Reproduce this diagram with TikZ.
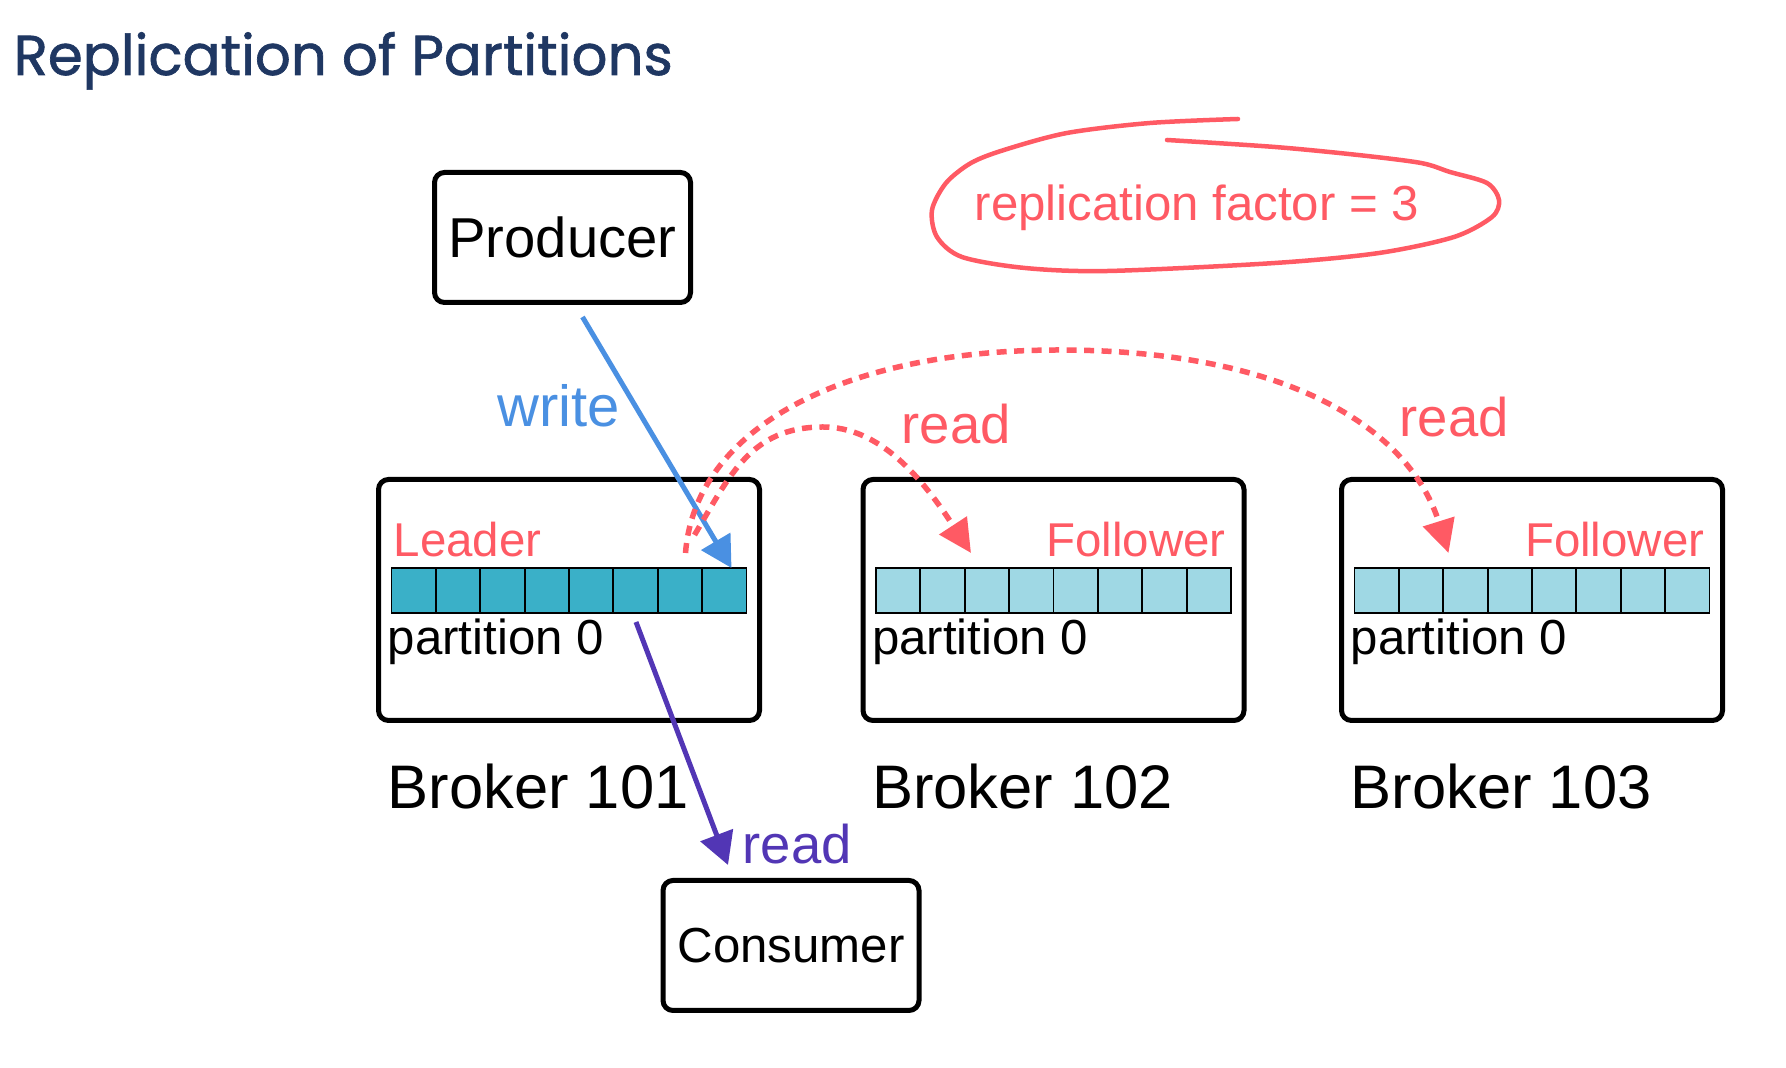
\documentclass[tikz,border=0pt]{standalone}
\usepackage{fontspec}
\setmainfont{Liberation Sans}
\newfontfamily\titlefont{Poppins}[FakeBold=1.2]
\usetikzlibrary{arrows.meta,positioning,calc}

\definecolor{kred}{HTML}{FF5A64}
\definecolor{kblue}{HTML}{4A90E2}
\definecolor{kpurple}{HTML}{5236B5}
\definecolor{leadfill}{HTML}{3AB0C8}
\definecolor{follfill}{HTML}{9FD8E4}
\definecolor{navy}{HTML}{1F3762}

\tikzset{
	box/.style={draw, line width=0.05cm, rounded corners=0.1cm, minimum width=2.56cm, minimum height=1.30cm},
	brokerbox/.style={draw, line width=0.05cm, rounded corners=0.1cm, minimum width=3.81cm, minimum height=2.41cm},
	logbar/.style={draw, line width=0.018cm, minimum width=3.55cm, minimum height=0.45cm, inner sep=0, outer sep=0},
	lbl/.style={inner sep=0, anchor=base west},
	readarrow/.style={kred, line width=0.055cm, dash pattern=on 0.1cm off 0.075cm, -{Triangle[length=0.33cm,width=0.32cm]}},
}

\begin{document}
\begin{tikzpicture}
	\useasboundingbox (0,0) rectangle (17.86,10.68);
	\node[lbl, text=navy, font=\titlefont\fontsize{16}{19}\selectfont] (title) at (0.13,9.93) {Replication of Partitions};

	% producer and consumer
	\node[box, font=\fontsize{16}{19}\selectfont] (producer) at (5.625,8.305) {Producer};
	\node[box, font=\fontsize{14}{17}\selectfont] (consumer) at (7.91,1.225) {Consumer};

	% brokers with their partition log
	\foreach \n/\x/\fc in {101/5.69/leadfill, 102/10.535/follfill, 103/15.32/follfill} {
		\node[brokerbox] (b\n) at (\x,4.68) {};
		\node[logbar, fill=\fc] (bar\n) at ($(b\n)+(0,0.095)$) {};
		\foreach \i in {1,...,7}
			\draw[line width=0.018cm] ($(bar\n.south west)+(\i*0.44375,0)$) -- ++(0,0.45);
		\node[lbl, font=\fontsize{14}{17}\selectfont] (part\n) at ($(b\n.north west)+(0.11,-1.78)$) {partition 0};
		\node[lbl, font=\fontsize{17.5}{21}\selectfont] (name\n) at ($(b\n.south west)+(0.11,-0.86)$) {Broker \n};
	}
	\node[lbl, text=kred, font=\fontsize{13.5}{16}\selectfont] (lead) at ($(b101.north west)+(0.17,-0.80)$) {Leader};
	\node[lbl, anchor=base east, text=kred, font=\fontsize{13.5}{16}\selectfont] (foll102) at ($(b102.north east)+(-0.20,-0.80)$) {Follower};
	\node[lbl, anchor=base east, text=kred, font=\fontsize{13.5}{16}\selectfont] (foll103) at ($(b103.north east)+(-0.20,-0.80)$) {Follower};

	% write and read arrows
	\draw[kblue, line width=0.05cm, -{Triangle[length=0.31cm,width=0.33cm]}] ($(producer.south)+(0.20,-0.12)$) -- ($(bar101.north east)+(-0.15,0)$);
	\node[lbl, text=kblue, font=\fontsize{16.5}{19}\selectfont] (write) at (4.97,6.41) {write};
	\draw[kpurple, line width=0.05cm, -{Triangle[length=0.32cm,width=0.34cm]}] ($(bar101.south)+(0.67,-0.09)$) -- ($(consumer.north)+(-0.63,0.13)$);
	\node[lbl, text=kpurple, font=\fontsize{15.5}{18}\selectfont] (read0) at (7.42,2.04) {read};

	% followers fetch from the leader
	\coordinate (src2) at ($(bar101.north east)+(-0.52,0.33)$);
	\coordinate (src3) at ($(bar101.north east)+(-0.61,0.15)$);
	\coordinate (dst2) at ($(bar102.north west)+(0.95,0.15)$);
	\coordinate (dst3) at ($(bar103.north west)+(0.94,0.15)$);
	\draw[readarrow] (src2) .. controls (7.30,5.93) and (7.51,6.41) .. (8.23,6.41) .. controls (8.80,6.41) and (9.22,5.90) .. (dst2);
	\draw[readarrow] (src3) .. controls (6.95,6.38) and (8.40,7.18) .. (10.59,7.18) .. controls (12.90,7.18) and (14.10,6.38) .. (dst3);
	\node[lbl, text=kred, font=\fontsize{15.5}{18}\selectfont] (read2) at (9.01,6.24) {read};
	\node[lbl, text=kred, font=\fontsize{15.5}{18}\selectfont] (read3) at (13.99,6.31) {read};

	% hand drawn loop round the note
	\node[lbl, text=kred, font=\fontsize{14}{17}\selectfont] (factor) at (9.74,8.47) {replication factor = 3};
	\draw[kred, line width=0.045cm, line cap=round] plot[smooth] coordinates {(12.38,9.49) (11.50,9.45) (10.67,9.35) (10.04,9.18) (9.71,9.05) (9.46,8.85) (9.32,8.58) (9.37,8.31) (9.62,8.11) (10.25,8.00) (11.08,7.97) (12.75,8.05) (13.79,8.15) (14.54,8.31) (14.92,8.51) (14.99,8.68) (14.87,8.85) (14.50,8.96) (14.21,9.05) (13.58,9.13) (12.75,9.21) (11.67,9.28)};
\end{tikzpicture}
\end{document}
